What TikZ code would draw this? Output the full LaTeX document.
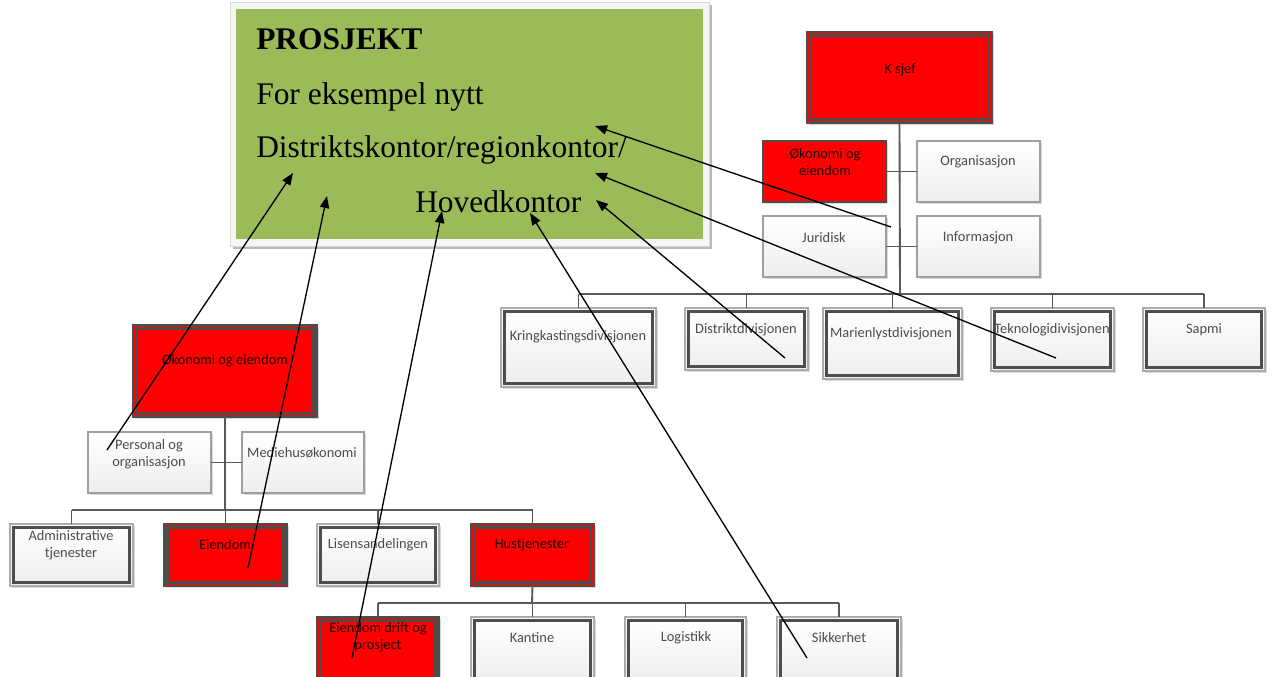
\documentclass[tikz,border=0pt]{standalone}
\usepackage{fontspec}
\setmainfont{Liberation Serif}
\newfontfamily\orgfont{Carlito}
\usetikzlibrary{arrows.meta,fit,shadows}

\definecolor{prgreen}{HTML}{9BBB59}
\definecolor{edgegray}{HTML}{595959}
\definecolor{rimgray}{HTML}{4D4D4D}

\tikzset{
  orgbase/.style={inner sep=0pt, outer sep=0pt,
    drop shadow={shadow xshift=1.2pt, shadow yshift=-1.2pt, opacity=0.3}},
  wbox/.style={orgbase, draw=gray!75, line width=1.2pt, top color=white, bottom color=gray!14},
  rbox/.style={orgbase, draw=rimgray, line width=1.2pt, fill=red},
  dbl/.style={path picture={\draw[rimgray, line width=1.7pt]
      ([shift={(2.6pt,-2.6pt)}]path picture bounding box.north west) rectangle
      ([shift={(-2.6pt,2.6pt)}]path picture bounding box.south east);}},
  wbox2/.style={wbox, dbl, draw=gray!65, line width=0.9pt},
  rbox2/.style={rbox, dbl, line width=1pt},
  lbl/.style={font=\orgfont\fontsize{10.8}{13}\selectfont, text=black!70, align=center, inner sep=0pt},
  rlbl/.style={lbl, text=black!85!red},
  conn/.style={draw=edgegray, line width=1.4pt},
  pointer/.style={draw=black, line width=1pt, -{Triangle[length=9pt,width=7pt]}},
  bigtext/.style={font=\fontsize{23.6}{28}\selectfont, anchor=base west, inner sep=0pt},
}

\begin{document}
\begin{tikzpicture}[x=0.75pt,y=-0.75pt]
\useasboundingbox (0,0) rectangle (1275,677);
\clip (0,0) rectangle (1275,677);

% ---------- project box ----------
\fill[gray!55] (233,5) rectangle (712,249);
\node[fill=gray!8, draw=gray!30, line width=0.5pt, inner sep=0pt, fit={(230,2)(709,246)}] (frame) {};
\node[fill=prgreen, inner sep=0pt, fit={(236,9)(703,239)}] (prosjekt) {};
\node[bigtext] (t1) at (256,50) {\bfseries PROSJEKT};
\node[bigtext] (t2) at (256,105) {For eksempel nytt};
\node[bigtext] (t3) at (256,158) {Distriktskontor/regionkontor/};
\node[bigtext] (t4) at (415,213) {Hovedkontor};

% ---------- head office chart ----------
\node[rbox2, fit={(807,32)(992,123)}] (ksjef) {};
\node[rlbl] (ksjef-t) at (900,70) {K sjef};

\node[rbox, fit={(763,141)(886,202)}] (okoR) {};
\node[rlbl] (okoR-t) at (825,162) {Økonomi og\\eiendom};
\node[wbox, fit={(917,141)(1040,202)}] (org) {};
\node[lbl] (org-t) at (978,162) {Organisasjon};
\node[wbox, fit={(763,216)(886,277)}] (jur) {};
\node[lbl] (jur-t) at (824,238) {Juridisk};
\node[wbox, fit={(917,216)(1040,277)}] (info) {};
\node[lbl] (info-t) at (978,238) {Informasjon};

\node[wbox2, fit={(501,308)(656,387)}] (kring) {};
\node[lbl] (kring-t) at (578,337) {Kringkastingsdivisjonen};
\node[wbox2, fit={(685,308)(808,370)}] (distr) {};
\node[lbl] (distr-t) at (746,330) {Distriktdivisjonen};
\node[wbox2, fit={(823,308)(962,379)}] (marien) {};
\node[lbl] (marien-t) at (891,334) {Marienlystdivisjonen};
\node[wbox2, fit={(991,308)(1114,371)}] (tekno) {};
\node[lbl] (tekno-t) at (1052,330) {Teknologidivisjonen};
\node[wbox2, fit={(1143,308)(1265,371)}] (sapmi) {};
\node[lbl] (sapmi-t) at (1204,330) {Sapmi};

\coordinate (busR) at (900,294);
\draw[conn] (ksjef.south) -- (busR);
\draw[conn] (okoR.east) -- (org.west);
\draw[conn] (jur.east) -- (info.west);
\draw[conn] (kring.north |- busR) -- (sapmi.north |- busR);
\foreach \n in {kring,distr,marien,tekno,sapmi}
  \draw[conn] (\n.north |- busR) -- (\n.north);

% ---------- finance and property chart ----------
\node[rbox2, fit={(133,325)(317,417)}] (okoL) {};
\node[rlbl] (okoL-t) at (225,361) {Økonomi og eiendom};
\node[wbox, fit={(88,432)(211,493)}] (pers) {};
\node[lbl] (pers-t) at (149,454) {Personal og\\organisasjon};
\node[wbox, fit={(242,432)(364,493)}] (medie) {};
\node[lbl] (medie-t) at (302,453) {Mediehusøkonomi};

\node[wbox2, fit={(10,524)(133,586)}] (adm) {};
\node[lbl] (adm-t) at (71,545) {Administrative\\tjenester};
\node[rbox2, fit={(164,524)(287,586)}] (eien) {};
\node[rlbl] (eien-t) at (225,545) {Eiendom};
\node[wbox2, fit={(317,524)(439,586)}] (lisens) {};
\node[lbl] (lisens-t) at (378,545) {Lisensandelingen};
\node[rbox2, fit={(471,524)(594,586)}] (hus) {};
\node[rlbl] (hus-t) at (532,545) {Hustjenester};

\node[rbox2, fit={(317,617)(439,686)}] (drift) {};
\node[rlbl] (drift-t) at (378,637) {Eiendom drift og\\prosject};
\node[wbox2, fit={(471,617)(594,686)}] (kantine) {};
\node[lbl] (kantine-t) at (532,638) {Kantine};
\node[wbox2, fit={(625,617)(746,686)}] (logistikk) {};
\node[lbl] (logistikk-t) at (686,638) {Logistikk};
\node[wbox2, fit={(777,617)(901,686)}] (sikker) {};
\node[lbl] (sikker-t) at (839,638) {Sikkerhet};

\coordinate (busL) at (226,510);
\draw[conn] (okoL.south) -- (okoL.south |- busL);
\draw[conn] (pers.east) -- (medie.west);
\draw[conn] (adm.north |- busL) -- (hus.north |- busL);
\foreach \n in {adm,eien,lisens,hus}
  \draw[conn] (\n.north |- busL) -- (\n.north);

\coordinate (busH) at (532,603);
\draw[conn] (hus.south) -- (busH);
\draw[conn] (drift.north |- busH) -- (sikker.north |- busH);
\foreach \n in {drift,kantine,logistikk,sikker}
  \draw[conn] (\n.north |- busH) -- (\n.north);

% ---------- pointers into the project box ----------
\coordinate (s1) at (891,227);   \coordinate (e1) at (595,126);
\coordinate (s2) at (1056,358);  \coordinate (e2) at (595,173);
\coordinate (s3) at (785,358);   \coordinate (e3) at (596,200);
\coordinate (s4) at (807,658);   \coordinate (e4) at (530,213);
\coordinate (s5) at (352,658);   \coordinate (e5) at (442,211);
\coordinate (s6) at (248,568);   \coordinate (e6) at (327,196);
\coordinate (s7) at (107,450);   \coordinate (e7) at (293,173);
\foreach \i in {1,...,7}
  \draw[pointer] (s\i) -- (e\i);
\end{tikzpicture}
\end{document}
